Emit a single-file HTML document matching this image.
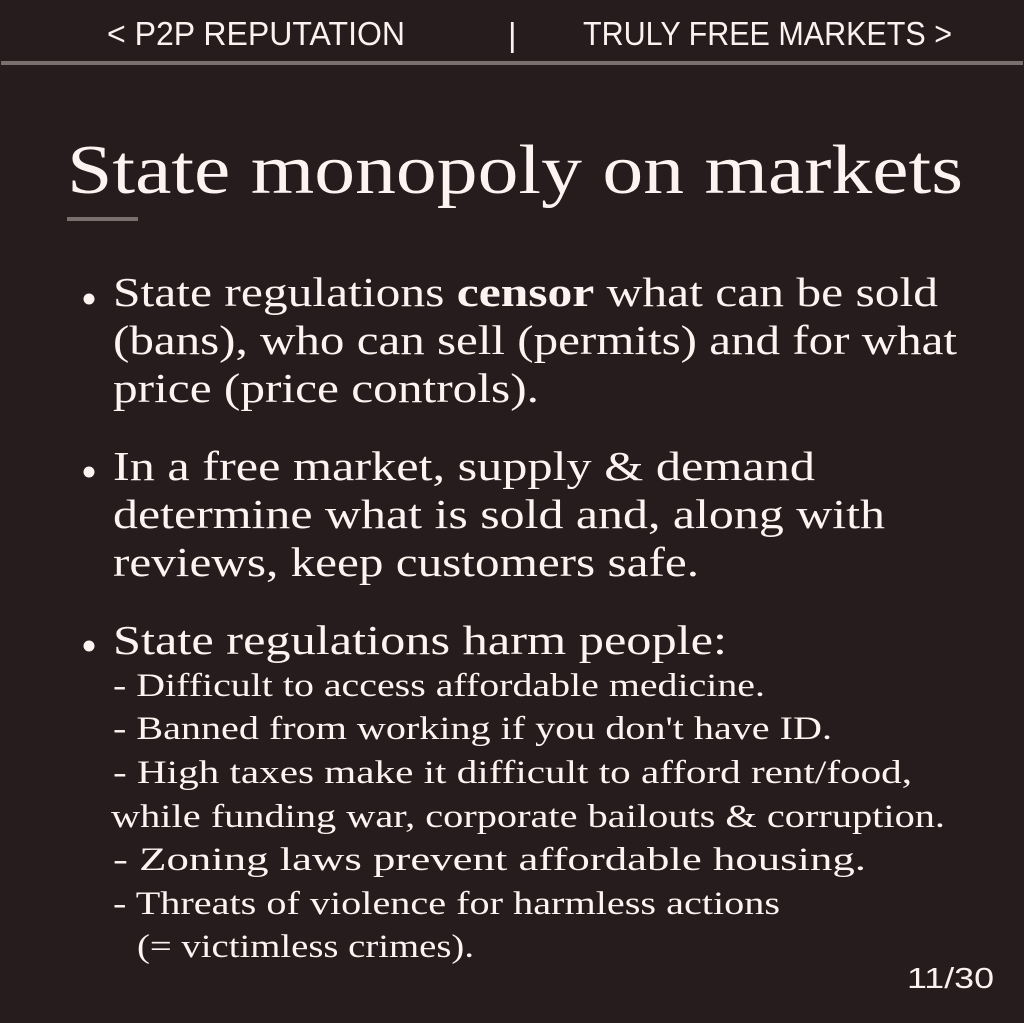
<!DOCTYPE html>
<html><head><meta charset="utf-8"><style>
html,body{margin:0;padding:0;background:#261c1d;}
svg{display:block}
.s{font-family:"Liberation Sans",sans-serif;fill:#fbf1ee}
.f{font-family:"Liberation Serif",serif;fill:#fdf4f1}
</style></head><body>
<svg width="1024" height="1023" viewBox="0 0 1024 1023">
<rect x="0" y="0" width="1024" height="1023" fill="#261c1d"/>
<text class="s" x="107" y="45" font-size="33" textLength="298" lengthAdjust="spacingAndGlyphs">&lt; P2P REPUTATION</text>
<text class="s" x="508" y="46" font-size="33">|</text>
<text class="s" x="583" y="45" font-size="33" textLength="369" lengthAdjust="spacingAndGlyphs">TRULY FREE MARKETS &gt;</text>
<rect x="1" y="61" width="1022" height="4" fill="#7a6f6f"/>
<text class="f" x="67" y="193" font-size="70" textLength="896" lengthAdjust="spacingAndGlyphs">State monopoly on markets</text>
<rect x="67" y="217" width="71" height="4" fill="#7a6f6f"/>

<circle cx="89" cy="299" r="5.5" fill="#fdf4f1"/>
<text class="f" x="113" y="306" font-size="41" textLength="825" lengthAdjust="spacingAndGlyphs">State regulations <tspan font-weight="bold">censor</tspan> what can be sold</text>
<text class="f" x="113" y="354" font-size="41" textLength="844" lengthAdjust="spacingAndGlyphs">(bans), who can sell (permits) and for what</text>
<text class="f" x="113" y="402" font-size="41" textLength="426" lengthAdjust="spacingAndGlyphs">price (price controls).</text>

<circle cx="89" cy="472" r="5.5" fill="#fdf4f1"/>
<text class="f" x="113" y="480" font-size="41" textLength="702" lengthAdjust="spacingAndGlyphs">In a free market, supply &amp; demand</text>
<text class="f" x="113" y="528" font-size="41" textLength="772" lengthAdjust="spacingAndGlyphs">determine what is sold and, along with</text>
<text class="f" x="113" y="576" font-size="41" textLength="586" lengthAdjust="spacingAndGlyphs">reviews, keep customers safe.</text>

<circle cx="89" cy="646" r="5.5" fill="#fdf4f1"/>
<text class="f" x="113" y="654" font-size="41" textLength="614" lengthAdjust="spacingAndGlyphs">State regulations harm people:</text>
<text class="f" x="113" y="696" font-size="33" textLength="652" lengthAdjust="spacingAndGlyphs">- Difficult to access affordable medicine.</text>
<text class="f" x="113" y="739" font-size="33" textLength="719" lengthAdjust="spacingAndGlyphs">- Banned from working if you don't have ID.</text>
<text class="f" x="113" y="783" font-size="33" textLength="799" lengthAdjust="spacingAndGlyphs">- High taxes make it difficult to afford rent/food,</text>
<text class="f" x="111" y="827" font-size="33" textLength="834" lengthAdjust="spacingAndGlyphs">while funding war, corporate bailouts &amp; corruption.</text>
<text class="f" x="113" y="870" font-size="33" textLength="753" lengthAdjust="spacingAndGlyphs">- Zoning laws prevent affordable housing.</text>
<text class="f" x="113" y="914" font-size="33" textLength="667" lengthAdjust="spacingAndGlyphs">- Threats of violence for harmless actions</text>
<text class="f" x="137" y="957" font-size="33" textLength="337" lengthAdjust="spacingAndGlyphs">(= victimless crimes).</text>

<text class="s" x="907" y="988" font-size="29" textLength="87" lengthAdjust="spacingAndGlyphs">11/30</text>
</svg>
</body></html>
